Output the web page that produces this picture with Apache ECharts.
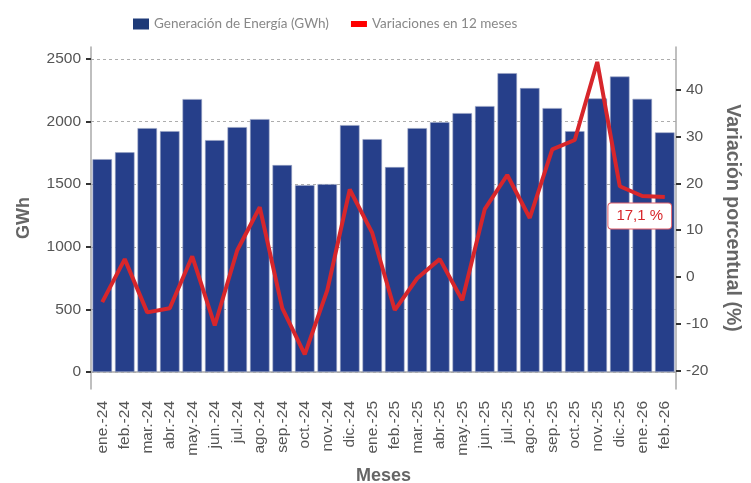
<!DOCTYPE html>
<html>
<head>
<meta charset="utf-8">
<script src="https://cdn.jsdelivr.net/npm/echarts@6/dist/echarts.min.js"></script>
<style>
  html, body { margin: 0; padding: 0; background: #fff; }
  #chartmain { width: 751px; height: 483px; }
</style>
</head>
<body>
<div id="chartmain"></div>
<script>
// datos
var meses = ['ene.-24','feb.-24','mar.-24','abr.-24','may.-24','jun.-24','jul.-24','ago.-24','sep.-24','oct.-24','nov.-24','dic.-24',
             'ene.-25','feb.-25','mar.-25','abr.-25','may.-25','jun.-25','jul.-25','ago.-25','sep.-25','oct.-25','nov.-25','dic.-25',
             'ene.-26','feb.-26'];
var generacion = [1700,1755,1948,1924,2180,1852,1956,2020,1653,1493,1501,1972,
                  1860,1637,1948,1996,2068,2124,2387,2268,2108,1924,2185,2360,
                  2182,1914];
var variacion = [-5.4,3.8,-7.6,-6.7,4.4,-10.4,5.7,14.9,-6.7,-16.6,-2.9,18.7,
                 9.4,-7.1,-0.3,3.8,-5.0,14.5,21.8,12.6,27.3,29.3,46.0,19.4,
                 17.3,17.1];
var ticksGwh = [0,500,1000,1500,2000,2500];
var ticksPct = [-20,-10,0,10,20,30,40];

var gris = '#555';
var fuente = 'Liberation Sans';
var sinComa = function (v) { return String(v); };

// ultimo punto con etiqueta
var lineaData = variacion.map(function (v, i) {
  if (i !== variacion.length - 1) return v;
  return {
    value: v,
    symbol: 'circle',
    symbolSize: 1,
    label: {
      show: true,
      position: 'bottom',
      distance: 6,
      offset: [-25, 0],
      formatter: '17,1 %',
      color: '#d7262b',
      fontSize: 15,
      fontFamily: fuente,
      backgroundColor: '#fff',
      borderColor: '#e0606a',
      borderWidth: 1,
      borderRadius: 3,
      padding: [5, 8, 5, 8]
    }
  };
});

var chart = echarts.init(document.getElementById('chartmain'));
chart.setOption({
  animation: false,
  legend: {
    left: 128,
    top: 12,
    itemWidth: 16,
    itemHeight: 11,
    itemGap: 22,
    textStyle: { color: '#888', fontSize: 13.5, fontFamily: 'Lato' },
    data: [
      { name: 'Generación de Energía (GWh)', icon: 'rect', itemStyle: { color: '#1e3a78', borderWidth: 0 } },
      { name: 'Variaciones en 12 meses', icon: 'path://M0,0h16v6h-16z', itemStyle: { color: '#ff0000', borderWidth: 0 } }
    ]
  },
  grid: { left: 91, right: 75, top: 47, bottom: 94, outerBoundsMode: 'none' },
  xAxis: {
    type: 'category',
    data: meses,
    name: 'Meses',
    nameLocation: 'middle',
    nameGap: 78,
    nameTextStyle: { color: '#666', fontSize: 18, fontWeight: 'bold', fontFamily: fuente },
    axisLine: { lineStyle: { color: '#aaa', width: 1.5 } },
    axisTick: { alignWithLabel: true, length: 5, lineStyle: { color: '#333', width: 2 } },
    axisLabel: { rotate: 90, interval: 0, margin: 12, color: gris, fontSize: 15.5, fontFamily: fuente }
  },
  yAxis: [
    {
      type: 'value',
      min: -136,
      max: 2596,
      name: 'GWh',
      nameLocation: 'middle',
      nameGap: 58,
      nameTextStyle: { color: '#666', fontSize: 18, fontWeight: 'bold', fontFamily: fuente },
      axisLine: { show: true, lineStyle: { color: '#aaa', width: 1.5 } },
      axisTick: { show: true, length: 5, customValues: ticksGwh, lineStyle: { color: '#333', width: 2 } },
      axisLabel: { customValues: ticksGwh, formatter: sinComa, margin: 10, color: gris, fontSize: 15.5, fontFamily: fuente },
      splitLine: { show: true, lineStyle: { color: '#999', type: [3, 3], width: 0.8 } }
    },
    {
      type: 'value',
      min: -24,
      max: 49.2,
      name: 'Variación porcentual (%)',
      nameLocation: 'middle',
      nameGap: 46,
      nameRotate: -90,
      nameTextStyle: { color: '#666', fontSize: 19.5, fontWeight: 'bold', fontFamily: fuente },
      axisLine: { show: true, lineStyle: { color: '#aaa', width: 1.5 } },
      axisTick: { show: true, length: 5, customValues: ticksPct, lineStyle: { color: '#333', width: 2 } },
      axisLabel: { customValues: ticksPct, formatter: sinComa, margin: 10, color: gris, fontSize: 15.5, fontFamily: fuente },
      splitLine: { show: false }
    }
  ],
  series: [
    {
      name: 'Generación de Energía (GWh)',
      type: 'bar',
      data: generacion,
      barWidth: 19.5,
      itemStyle: { color: '#263f8a', borderColor: '#9aa4c4', borderWidth: 0.6 }
    },
    {
      name: 'Variaciones en 12 meses',
      type: 'line',
      yAxisIndex: 1,
      data: lineaData,
      symbol: 'none',
      z: 5,
      lineStyle: { color: '#d7262b', width: 4 },
      itemStyle: { color: '#d7262b' }
    }
  ]
});
</script>
</body>
</html>
